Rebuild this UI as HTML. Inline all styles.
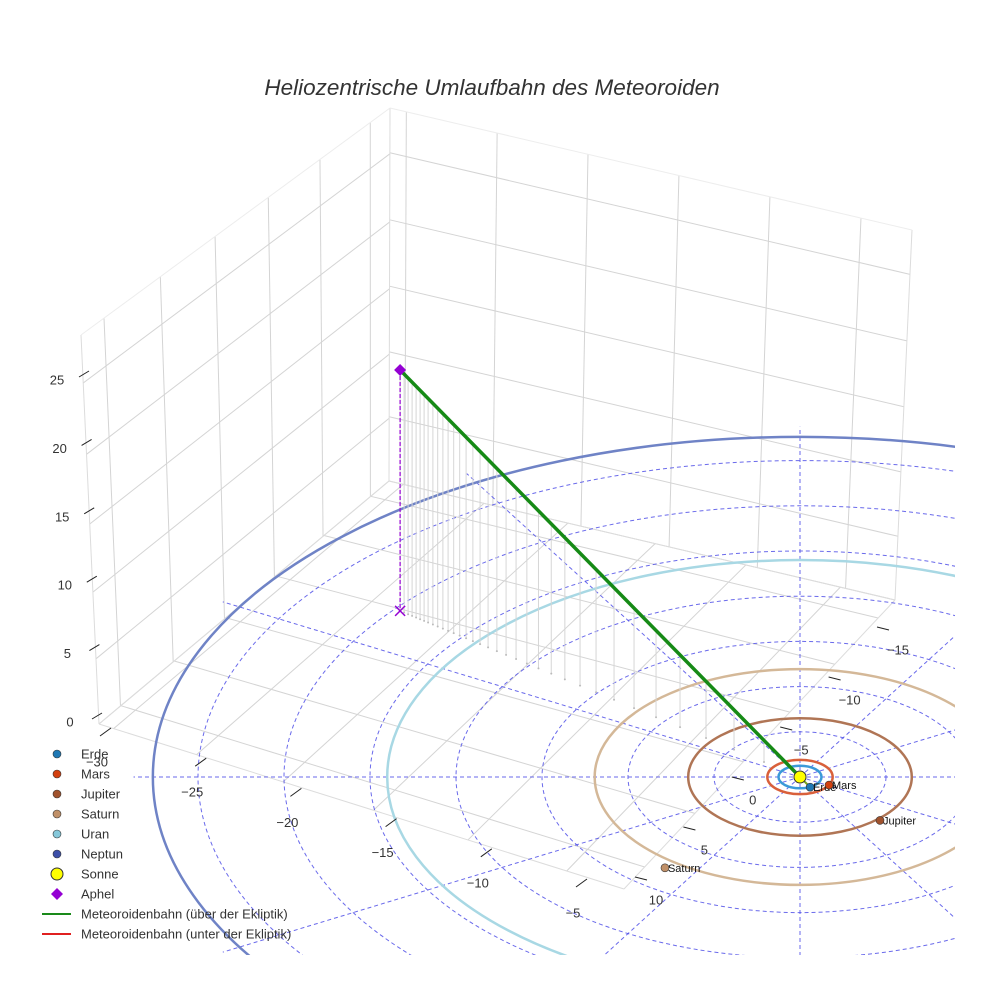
<!DOCTYPE html>
<html><head><meta charset="utf-8"><style>
html,body{margin:0;padding:0;background:#fff;overflow:hidden;width:984px;height:984px;}
svg{display:block;font-family:"Liberation Sans",sans-serif;}
</style></head><body>
<svg id="chart" width="984" height="984" viewBox="0 0 984 984">
<defs><clipPath id="clip"><rect x="0" y="0" width="955" height="955"/></clipPath></defs>
<text x="492" y="95" text-anchor="middle" font-size="22.5" font-style="italic" fill="#333">Heliozentrische Umlaufbahn des Meteoroiden</text>
<g id="box"></g>
<g id="ecl" clip-path="url(#clip)"></g>
<g id="ticks"></g>
<g id="legend"></g>
</svg>
<script>
// ---- data ----
const xTicks=[-30,-25,-20,-15,-10,-5];
const yTicks=[-15,-10,-5,0,5,10];
const zTicks=[0,5,10,15,20,25];
const xRange=[-30.9,-2.2];
const yRange=[12,-17];
const zRange=[0,28.3];
const ringRadii=[4,8,12,16,20,24,28];
const radialAngles=[0,30,60,90,120,150,180,210,240,270,300,330];
const planetNames=["Erde","Mars","Jupiter","Saturn","Uran","Neptun"];
const planetRadius=[1.0,1.52,5.2,9.55,19.2,30.1];
const planetX=[0.47,1.35,3.72,-6.28,18,25];
const planetY=[0.9,0.71,3.84,8.04,8,18];
const planetOrbitColor=["#3b9ad8","#d9603b","#b07555","#d4b898","#a8d8e4","#6f83c6"];
const planetMarkerColor=["#1f78b4","#d2400f","#a0522d","#c09068","#86c8da","#3d4fa8"];
const aphel=[-18.6,-14.7,25.6];
const orbitT=[1.0,0.99,0.98,0.97,0.96,0.95,0.94,0.93,0.918,0.906,0.893,0.88,0.866,0.851,0.835,0.818,0.8,0.78,0.758,0.735,0.71,0.683,0.654,0.622,0.588,0.55,0.51,0.465,0.415,0.36,0.3,0.235,0.165,0.09];

const NS="http://www.w3.org/2000/svg";
function mk(parent,tag,attrs){const e=document.createElementNS(NS,tag);for(const k in attrs)e.setAttribute(k,attrs[k]);parent.appendChild(e);return e;}

function homog(p0,p1,p2,p3){
  const [x0,y0]=p0,[x1,y1]=p1,[x2,y2]=p2,[x3,y3]=p3;
  const sx=x0-x1+x2-x3, sy=y0-y1+y2-y3;
  const dx1=x1-x2,dx2=x3-x2,dy1=y1-y2,dy2=y3-y2;
  const den=dx1*dy2-dx2*dy1;
  const g=(sx*dy2-dx2*sy)/den, h=(dx1*sy-sx*dy1)/den;
  const a=x1-x0+g*x1,b=x3-x0+h*x3,c=x0,d=y1-y0+g*y1,e=y3-y0+h*y3,f=y0;
  return (u,v)=>{const w=g*u+h*v+1;return [(a*u+b*v+c)/w,(d*u+e*v+f)/w];};
}
const A=[99,724],B=[624,889],C=[895,600],D=[389,481],A2=[81,335],C2=[912,230],D2=[390,108];
const floor=homog(A,B,C,D), left=homog(A,D,D2,A2), back=homog(D,C,C2,D2);
const ux=x=>(x-xRange[0])/(xRange[1]-xRange[0]);
const vy=y=>(y-yRange[0])/(yRange[1]-yRange[0]);
const wz=z=>(z-zRange[0])/(zRange[1]-zRange[0]);

const box=document.getElementById('box');
function seg(g,p,q,col,w,name){const l=mk(g,'line',{x1:p[0],y1:p[1],x2:q[0],y2:q[1],stroke:col,'stroke-width':w});

return l;}
const gc="#d4d4d4";
xTicks.forEach(t=>{const u=ux(t);seg(box,floor(u,0),floor(u,1),gc,1,'floor-gridline-x');seg(box,back(u,0),back(u,1),gc,1,'back-wall-gridline-x');});
yTicks.forEach(t=>{const v=vy(t);seg(box,floor(0,v),floor(1,v),gc,1,'floor-gridline-y');seg(box,left(v,0),left(v,1),gc,1,'left-wall-gridline-y');});
zTicks.forEach(t=>{const w=wz(t);seg(box,left(0,w),left(1,w),gc,1,'left-wall-gridline-z');seg(box,back(0,w),back(1,w),gc,1,'back-wall-gridline-z');});
[[A,B],[B,C],[C,D],[D,A],[A,A2],[D,D2],[C,C2]].forEach(p=>seg(box,p[0],p[1],"#dcdcdc",1,'box-edge'));
[[A2,D2],[D2,C2]].forEach(p=>seg(box,p[0],p[1],"#ededed",1,'box-top-edge'));

const S=[800,777],KX=21.5,KY=11.3,KZ=9.41;
const mx=x=>S[0]+KX*x, my=(y,z)=>S[1]+KY*y-KZ*(z||0);
const ecl=document.getElementById('ecl');
ringRadii.forEach(r=>{const e=mk(ecl,'ellipse',{cx:S[0],cy:S[1],rx:KX*r,ry:KY*r,fill:'none',stroke:'#5050e8','stroke-width':1,'stroke-dasharray':'4,3',opacity:0.85});

});
radialAngles.forEach(a=>{const r=31,rad=a*Math.PI/180;const l=mk(ecl,'line',{x1:S[0],y1:S[1],x2:mx(r*Math.cos(rad)),y2:my(r*Math.sin(rad)),stroke:'#5050e8','stroke-width':1,'stroke-dasharray':'4,3',opacity:0.85});

});
planetRadius.forEach((r,i)=>{const e=mk(ecl,'ellipse',{cx:S[0],cy:S[1],rx:KX*r,ry:KY*r,fill:'none',stroke:planetOrbitColor[i],'stroke-width':2.5});

});
orbitT.forEach(t=>{const x=aphel[0]*t,y=aphel[1]*t,z=aphel[2]*t;
 const l=mk(ecl,'line',{x1:mx(x),y1:my(y,z),x2:mx(x),y2:my(y,0),stroke:'#d6d6d6','stroke-width':1});
 
 
 const c=mk(ecl,'circle',{cx:mx(x),cy:my(y,0),r:1,fill:'#bbb'});
 
 });
const pv=mk(ecl,'line',{x1:mx(aphel[0]),y1:my(aphel[1],aphel[2]),x2:mx(aphel[0]),y2:my(aphel[1],0),stroke:'#9400d3','stroke-width':1.2,'stroke-dasharray':'4,2'});


const ml=mk(ecl,'line',{x1:S[0],y1:S[1],x2:mx(aphel[0]),y2:my(aphel[1],aphel[2]),stroke:'#168a16','stroke-width':3.5});


const ml2=mk(ecl,'line',{x1:S[0],y1:S[1],x2:mx(planetX[0]),y2:my(planetY[0]),stroke:'#7aa81a','stroke-width':2});


const sun=mk(ecl,'circle',{cx:S[0],cy:S[1],r:6,fill:'#ffff00',stroke:'#333','stroke-width':1});


planetNames.forEach((n,i)=>{const x=mx(planetX[i]),y=my(planetY[i]);
 const c=mk(ecl,'circle',{cx:x,cy:y,r:4,fill:planetMarkerColor[i],stroke:'#333','stroke-width':0.6});
 
 
 const t=mk(ecl,'text',{x:x+3,y:y+4,'font-size':11,fill:'#111'});t.textContent=n;
 
 });
{const x=mx(aphel[0]),y=my(aphel[1],aphel[2]);
 const d=mk(ecl,'path',{d:`M${x},${y-6}L${x+6},${y}L${x},${y+6}L${x-6},${y}Z`,fill:'#9400d3'});
 
 
 const y0=my(aphel[1],0);
 const cr=mk(ecl,'path',{d:`M${x-5},${y0-5}L${x+5},${y0+5}M${x+5},${y0-5}L${x-5},${y0+5}`,stroke:'#9400d3','stroke-width':1.5});
 
 }

const tk=document.getElementById('ticks');
function lab(x,y,txt,name){const t=mk(tk,'text',{x:x,y:y+4.5,'text-anchor':'middle','font-size':13,fill:'#333'});t.textContent=txt;

}
const fmt=v=>v<0?'\u2212'+(-v):''+v;
xTicks.forEach(t=>{const f=(t+30)/25;const x=97+f*476,y=762+f*151;lab(x,y,fmt(t),'x-tick-label');seg(tk,[x+3,y-26],[x+14,y-34],'#222',1,'x-tick-mark');});
yTicks.forEach(t=>{const f=(10-t)/25;const x=656+f*242,y=900-f*250;lab(x,y,fmt(t),'y-tick-label');seg(tk,[x-21,y-23],[x-9,y-20],'#222',1,'y-tick-mark');});
zTicks.forEach(t=>{const f=t/25;const x=70-f*13,y=722-f*342;lab(x,y,fmt(t),'z-tick-label');seg(tk,[x+22,y-3],[x+32,y-9],'#222',1,'z-tick-mark');});

const lg=document.getElementById('legend');
const legendItems=[["Erde","c",planetMarkerColor[0]],["Mars","c",planetMarkerColor[1]],["Jupiter","c",planetMarkerColor[2]],["Saturn","c",planetMarkerColor[3]],["Uran","c",planetMarkerColor[4]],["Neptun","c",planetMarkerColor[5]],["Sonne","s","#ffff00"],["Aphel","d","#9400d3"],["Meteoroidenbahn (über der Ekliptik)","l","#1a8a1a"],["Meteoroidenbahn (unter der Ekliptik)","l","#e02020"]];
legendItems.forEach((it,i)=>{const y=754+i*20;const g=mk(lg,'g',{});
 
 
 if(it[1]=='c')mk(g,'circle',{cx:57,cy:y,r:4,fill:it[2],stroke:'#333','stroke-width':0.6});
 else if(it[1]=='s')mk(g,'circle',{cx:57,cy:y,r:6,fill:it[2],stroke:'#333','stroke-width':1});
 else if(it[1]=='d')mk(g,'path',{d:`M57,${y-6}L63,${y}L57,${y+6}L51,${y}Z`,fill:it[2]});
 else mk(g,'line',{x1:42,y1:y,x2:71,y2:y,stroke:it[2],'stroke-width':2});
 const t=mk(g,'text',{x:81,y:y+4.5,'font-size':13,fill:'#333'});t.textContent=it[0];});
</script>
</body></html>
